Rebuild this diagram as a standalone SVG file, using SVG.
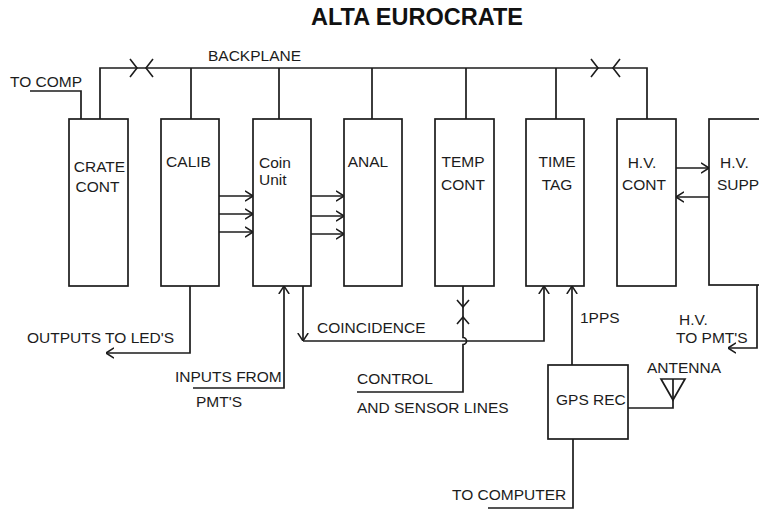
<svg xmlns="http://www.w3.org/2000/svg" width="759" height="510" viewBox="0 0 759 510">
<style>
.box{fill:#fff;stroke:#1c1c1c;stroke-width:1.7}
.ln{fill:none;stroke:#1c1c1c;stroke-width:1.7}
.ch{fill:none;stroke:#1c1c1c;stroke-width:1.6}
.t{font-family:"Liberation Sans",Arial,sans-serif;font-size:15.5px;fill:#1c1c1c}
.m{text-anchor:middle}
.title{font-family:"Liberation Sans",Arial,sans-serif;font-size:23.5px;font-weight:bold;fill:#111;text-anchor:middle}
</style>
<defs>
<marker id="arr" viewBox="0 0 8 12" refX="8" refY="6" markerWidth="8" markerHeight="12" markerUnits="userSpaceOnUse" orient="auto">
<path d="M0,0.8 L8,6 L0,11.2" fill="none" stroke="#1c1c1c" stroke-width="1.5"/>
</marker>
</defs>
<rect width="759" height="510" fill="#fff"/>
<text class="title" x="417" y="25">ALTA EUROCRATE</text>

<g id="connectors">
<path class="ln" d="M100,119 V68 H647 V119"/>
<path class="ln" d="M191,68 V119 M279,68 V119 M372,68 V119 M466,68 V119 M556,68 V119"/>
<path class="ch" d="M130,59 L137,68 L130,77 M153,59 L146,68 L153,77"/>
<path class="ch" d="M591,59 L598,68 L591,77 M620,59 L613,68 L620,77"/>
<path class="ln" d="M30,91 H81 V119"/>
<path class="ln" marker-end="url(#arr)" d="M219,196 H253"/>
<path class="ln" marker-end="url(#arr)" d="M219,214 H253"/>
<path class="ln" marker-end="url(#arr)" d="M217,232 H253"/>
<path class="ln" marker-end="url(#arr)" d="M311,196 H344"/>
<path class="ln" marker-end="url(#arr)" d="M311,216 H344"/>
<path class="ln" marker-end="url(#arr)" d="M311,234 H344"/>
<path class="ln" marker-end="url(#arr)" d="M676,168 H709"/>
<path class="ln" marker-end="url(#arr)" d="M709,197 H676"/>
<path class="ln" marker-end="url(#arr)" d="M190,286 V353 H106"/>
<path class="ln" marker-end="url(#arr)" d="M193,388 H284 V286"/>
<path class="ln" marker-end="url(#arr)" d="M303,286 V341"/>
<path class="ln" marker-end="url(#arr)" d="M303,341 H544 V286"/>
<path class="ln" d="M463,286 V337.5 A3.5,3.5 0 0 1 463,344.5 V392 H357"/>
<path class="ch" d="M457,300 L463,307 L469,300 M457,324 L463,317 L469,324"/>
<path class="ln" marker-end="url(#arr)" d="M572,365 V286"/>
<path class="ln" d="M573,439 V508 H488"/>
<path class="ln" d="M628,408 H673 V379"/>
<path class="ln" d="M661,379 H685 L673,400 Z"/>
<path class="ln" marker-end="url(#arr)" d="M757,285 V348 H728"/>
</g>

<g id="crate-cont">
<rect class="box" x="69" y="119" width="59" height="167"/>
<text class="t m" x="99.5" y="172">CRATE</text>
<text class="t m" x="97.5" y="192">CONT</text>
</g>
<g id="calib">
<rect class="box" x="161" y="119" width="58" height="167"/>
<text class="t m" x="188.5" y="167">CALIB</text>
</g>
<g id="coin-unit">
<rect class="box" x="253" y="119" width="58" height="167"/>
<text class="t" x="259" y="168">Coin</text>
<text class="t" x="259" y="185">Unit</text>
</g>
<g id="anal">
<rect class="box" x="344" y="119" width="58" height="167"/>
<text class="t m" x="368" y="167">ANAL</text>
</g>
<g id="temp-cont">
<rect class="box" x="435" y="119" width="59" height="167"/>
<text class="t m" x="463" y="167">TEMP</text>
<text class="t m" x="463" y="190">CONT</text>
</g>
<g id="time-tag">
<rect class="box" x="526" y="119" width="58" height="167"/>
<text class="t m" x="557" y="167">TIME</text>
<text class="t m" x="557" y="190">TAG</text>
</g>
<g id="hv-cont">
<rect class="box" x="617" y="119" width="59" height="167"/>
<text class="t m" x="642" y="168">H.V.</text>
<text class="t m" x="644" y="190">CONT</text>
</g>
<g id="hv-supp">
<rect class="box" x="709" y="119" width="60" height="166"/>
<text class="t" x="720" y="168">H.V.</text>
<text class="t" x="717" y="190">SUPP</text>
</g>
<g id="gps-rec">
<rect class="box" x="548" y="365" width="80" height="74"/>
<text class="t" x="556" y="405">GPS REC</text>
</g>

<g id="labels">
<text class="t" x="208" y="61">BACKPLANE</text>
<text class="t" x="10" y="87">TO COMP</text>
<text class="t" x="27" y="343">OUTPUTS TO LED'S</text>
<text class="t" x="175" y="382">INPUTS FROM</text>
<text class="t" x="196" y="407">PMT'S</text>
<text class="t" x="317" y="333">COINCIDENCE</text>
<text class="t" x="357" y="384">CONTROL</text>
<text class="t" x="357" y="413">AND SENSOR LINES</text>
<text class="t" x="580" y="323">1PPS</text>
<text class="t" x="679" y="325">H.V.</text>
<text class="t" x="676" y="343">TO PMT'S</text>
<text class="t" x="647" y="373">ANTENNA</text>
<text class="t" x="452" y="500">TO COMPUTER</text>
</g>
</svg>
